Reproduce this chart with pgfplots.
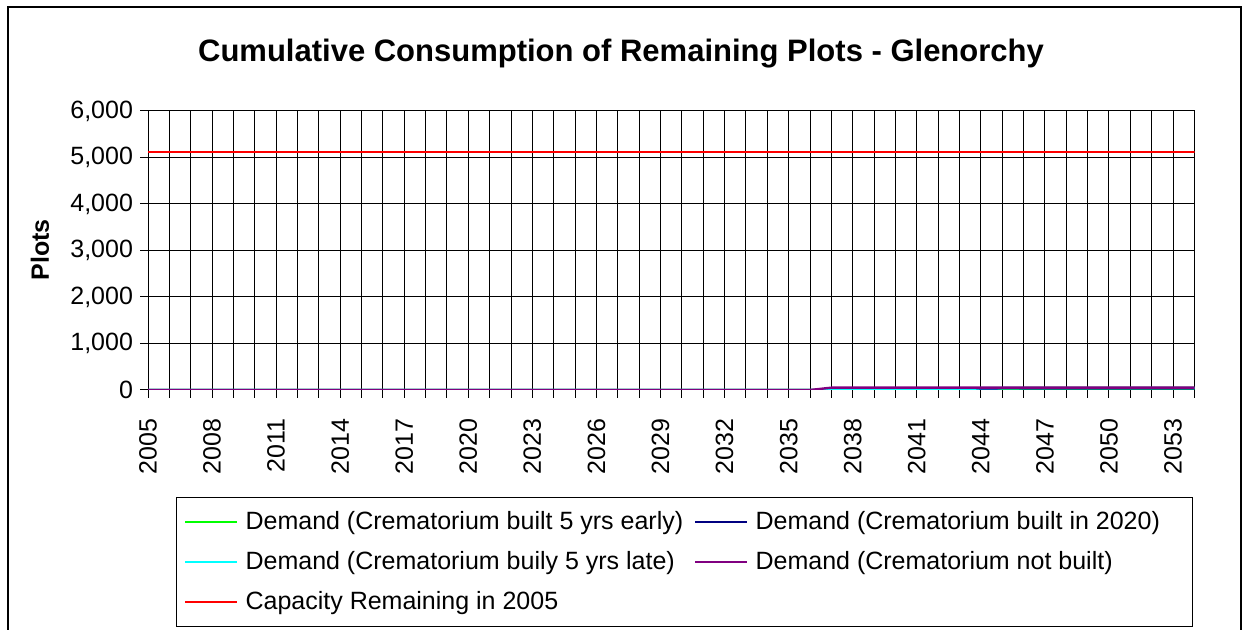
\documentclass[border=0pt]{standalone}
\usepackage{fontspec}
\setmainfont{Liberation Sans}
\usepackage{pgfplots}
\pgfplotsset{compat=1.18}

\definecolor{dgreen}{HTML}{00FF00}
\definecolor{dnavy}{HTML}{000080}
\definecolor{dcyan}{HTML}{00FFFF}
\definecolor{dpurple}{HTML}{800080}
\definecolor{dred}{HTML}{FF0000}

\newcommand{\lbl}{\fontsize{12.5}{15}\selectfont}

\begin{document}
\begin{tikzpicture}
\useasboundingbox (0,0) rectangle (622pt,315pt);
\draw[line width=0.8pt] (4pt,-10pt) -- (4pt,311.5pt) -- (620.5pt,311.5pt) -- (620.5pt,-10pt);
\node[font=\bfseries\fontsize{15.5}{18}\selectfont] at (310.5pt,288pt)
  {Cumulative Consumption of Remaining Plots - Glenorchy};
\node[font=\bfseries\lbl, rotate=90] at (20pt,190pt) {Plots};
\begin{axis}[
  at={(74pt,120pt)}, anchor=south west,
  scale only axis, width=523.25pt, height=139.5pt,
  xmin=2005, xmax=2054, ymin=0, ymax=6000,
  xtick={2005,...,2054},
  xticklabels={2005,,,2008,,,2011,,,2014,,,2017,,,2020,,,2023,,,2026,,,2029,,,2032,,,2035,,,2038,,,2041,,,2044,,,2047,,,2050,,,2053,},
  ytick={0,1000,...,6000},
  grid=major,
  major grid style={black, line width=0.5pt},
  tick align=outside,
  major tick length=4pt,
  tick style={black, line width=0.5pt},
  axis line style={black, line width=0.5pt},
  xtick pos=bottom, ytick pos=left,
  /pgf/number format/assume math mode=true,
  yticklabel style={font=\lbl, /pgf/number format/1000 sep={,}},
  xticklabel style={font=\lbl, rotate=90, anchor=east, inner xsep=10pt},
  legend columns=2,
  legend cell align=left,
  legend style={name=leg, at={(0.0277,-0.387)}, anchor=north west, draw=none,
    font=\lbl, inner xsep=3.4pt, inner ysep=5pt,
    nodes={inner sep=1.5pt},
    row sep=6.5pt,
    /tikz/every odd column/.append style={column sep=2pt},
    /tikz/every even column/.append style={column sep=4pt}},
  legend image code/.code={\draw[#1, line width=1.2pt] (0pt,0pt) -- (26pt,0pt);},
]
\addplot[dgreen, line width=1.2pt] coordinates {(2005,0) (2045,0) (2046,40) (2054,40)};
\addlegendentry{Demand (Crematorium built 5 yrs early)}
\addplot[dnavy, line width=1.2pt] coordinates {(2005,0) (2044,0) (2045,40) (2054,40)};
\addlegendentry{Demand (Crematorium built in 2020)}
\addplot[dcyan, line width=1.2pt] coordinates {(2005,0) (2043,0) (2044,40) (2054,40)};
\addlegendentry{Demand (Crematorium buily 5 yrs late)}
\addplot[dpurple, line width=1.2pt] coordinates {(2005,0) (2036,0) (2037,50) (2054,50)};
\addlegendentry{Demand (Crematorium not built)}
\addplot[dred, line width=1.2pt] coordinates {(2005,5120) (2054,5120)};
\addlegendentry{Capacity Remaining in 2005}
\end{axis}
\coordinate (legr) at (596pt,0pt);
\draw[line width=0.5pt] (leg.north west) rectangle (legr |- leg.south);
\end{tikzpicture}
\end{document}
